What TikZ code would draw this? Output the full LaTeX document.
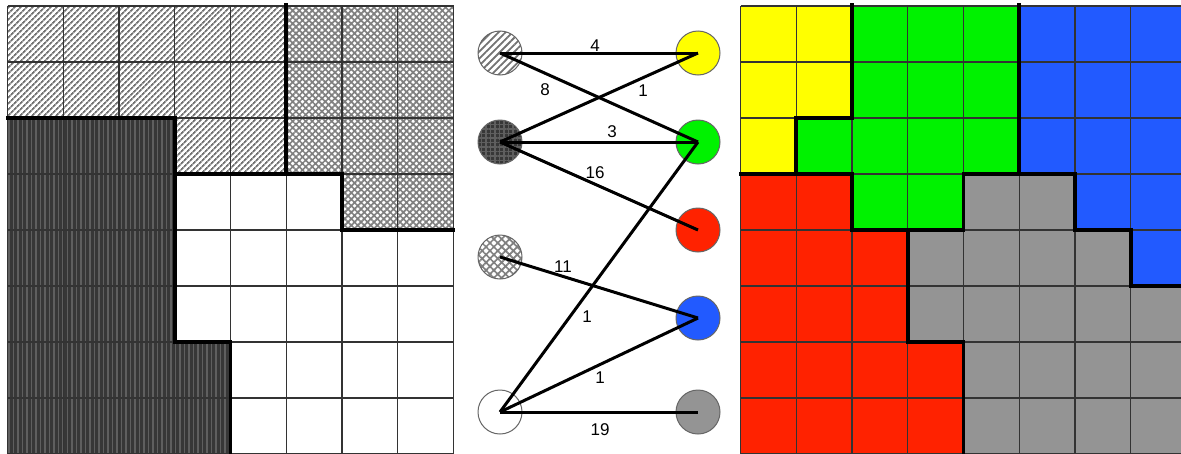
\documentclass[tikz,border=0pt]{standalone}
\usepackage{fontspec}
\setmainfont{Liberation Sans}
\usetikzlibrary{patterns.meta}
\definecolor{cyel}{RGB}{255,255,0}
\definecolor{cgrn}{RGB}{0,242,0}
\definecolor{cred}{RGB}{255,34,0}
\definecolor{cblu}{RGB}{34,90,255}
\definecolor{cgry}{RGB}{148,148,148}
\definecolor{cdark}{RGB}{55,55,55}
\definecolor{cdarkl}{RGB}{95,95,95}
\tikzset{
  gridline/.style={draw=black!80, line width=1.1pt},
  thickb/.style={draw=black, line width=3.6pt, line cap=rect, line join=miter},
  hatchA/.style={preaction={fill=white}, pattern={Lines[angle=45,distance=4pt,line width=1.9pt]}, pattern color=black!55},
  hatchB/.style={preaction={fill=white}, pattern={Hatch[angle=45,distance=4.6pt,line width=1.7pt]}, pattern color=black!50},
  hatchC/.style={preaction={fill=cdark}, pattern={Lines[angle=90,distance=4.5pt,line width=1.8pt]}, pattern color=cdarkl},
  vert/.style={circle, minimum size=44pt, inner sep=0pt, draw=black!60, line width=1pt},
  edge/.style={draw=black, line width=3pt},
  lab/.style={inner sep=0pt, font=\fontsize{17}{19}\selectfont}
}
\begin{document}
\begin{tikzpicture}[x=1pt, y=-1pt]
\useasboundingbox (0,0) rectangle (1181,453);
\clip (0,0) rectangle (1181,453);
\fill[white] (0,0) rectangle (1181,453);

% ---------- left grid ----------
\begin{scope}[shift={(7.5pt,-6pt)}, x=55.75pt, y=-56pt]
  \fill[hatchA] (0,0) -- (5,0) -- (5,3) -- (3,3) -- (3,2) -- (0,2) -- cycle;
  \fill[hatchB] (5,0) -- (8,0) -- (8,4) -- (6,4) -- (6,3) -- (5,3) -- cycle;
  \fill[hatchC] (0,2) -- (3,2) -- (3,6) -- (4,6) -- (4,8) -- (0,8) -- cycle;
  \foreach \i in {0,...,8} {
    \draw[gridline] (\i,0) -- (\i,8);
    \draw[gridline] (0,\i) -- (8,\i);
  }
  \draw[thickb] (5,-0.02) -- (5,3);
  \draw[thickb] (0,2) -- (3,2) -- (3,6) -- (4,6) -- (4,8.2);
  \draw[thickb] (3,3) -- (6,3) -- (6,4) -- (8,4);
\end{scope}

% ---------- right grid ----------
\begin{scope}[shift={(740.5pt,-6pt)}, x=55.75pt, y=-56pt]
  \fill[cgry] (0,0) rectangle (8,8);
  \fill[cyel] (0,0) -- (2,0) -- (2,2) -- (1,2) -- (1,3) -- (0,3) -- cycle;
  \fill[cgrn] (2,0) -- (5,0) -- (5,3) -- (4,3) -- (4,4) -- (2,4) -- (2,3) -- (1,3) -- (1,2) -- (2,2) -- cycle;
  \fill[cblu] (5,0) -- (8,0) -- (8,5) -- (7,5) -- (7,4) -- (6,4) -- (6,3) -- (5,3) -- cycle;
  \fill[cred] (0,3) -- (2,3) -- (2,4) -- (3,4) -- (3,6) -- (4,6) -- (4,8) -- (0,8) -- cycle;
  \foreach \i in {0,...,8} {
    \draw[gridline] (\i,0) -- (\i,8);
    \draw[gridline] (0,\i) -- (8,\i);
  }
  \draw[thickb] (2,-0.02) -- (2,2) -- (1,2) -- (1,3) -- (0,3);
  \draw[thickb] (1,3) -- (2,3) -- (2,4) -- (4,4) -- (4,3) -- (6,3) -- (6,4) -- (7,4) -- (7,5) -- (8.2,5);
  \draw[thickb] (5,-0.02) -- (5,3);
  \draw[thickb] (3,4) -- (3,6) -- (4,6) -- (4,8.2);
\end{scope}

% ---------- bipartite graph ----------
\node[vert, preaction={fill=white}, pattern={Lines[angle=45,distance=5pt,line width=1.8pt]}, pattern color=black!55] (L1) at (500,53) {};
\node[vert, preaction={fill=cdark}, pattern={Hatch[angle=0,distance=4.5pt,line width=1.4pt]}, pattern color=cdarkl] (L2) at (500,142) {};
\node[vert, preaction={fill=white}, pattern={Hatch[angle=45,distance=5.5pt,line width=1.7pt]}, pattern color=black!50] (L3) at (500,257) {};
\node[vert, fill=white] (L4) at (500,412) {};
\node[vert, fill=cyel] (R1) at (698,53) {};
\node[vert, fill=cgrn] (R2) at (698,142) {};
\node[vert, fill=cred] (R3) at (698,230) {};
\node[vert, fill=cblu] (R4) at (698,318) {};
\node[vert, fill=cgry] (R5) at (698,412) {};

\draw[edge] (L1.center) -- (R1.center);
\draw[edge] (L1.center) -- (R2.center);
\draw[edge] (L2.center) -- (R1.center);
\draw[edge] (L2.center) -- (R2.center);
\draw[edge] (L2.center) -- (R3.center);
\draw[edge] (L3.center) -- (R4.center);
\draw[edge] (L4.center) -- (R2.center);
\draw[edge] (L4.center) -- (R4.center);
\draw[edge] (L4.center) -- (R5.center);

\node[lab] (w1) at (595,46) {4};
\node[lab] (w2) at (545,90) {8};
\node[lab] (w3) at (643,91) {1};
\node[lab] (w4) at (612,132) {3};
\node[lab] (w5) at (595,173) {16};
\node[lab] (w6) at (563,267) {11};
\node[lab] (w7) at (587,317) {1};
\node[lab] (w8) at (600,378) {1};
\node[lab] (w9) at (600,430) {19};
\end{tikzpicture}
\end{document}
